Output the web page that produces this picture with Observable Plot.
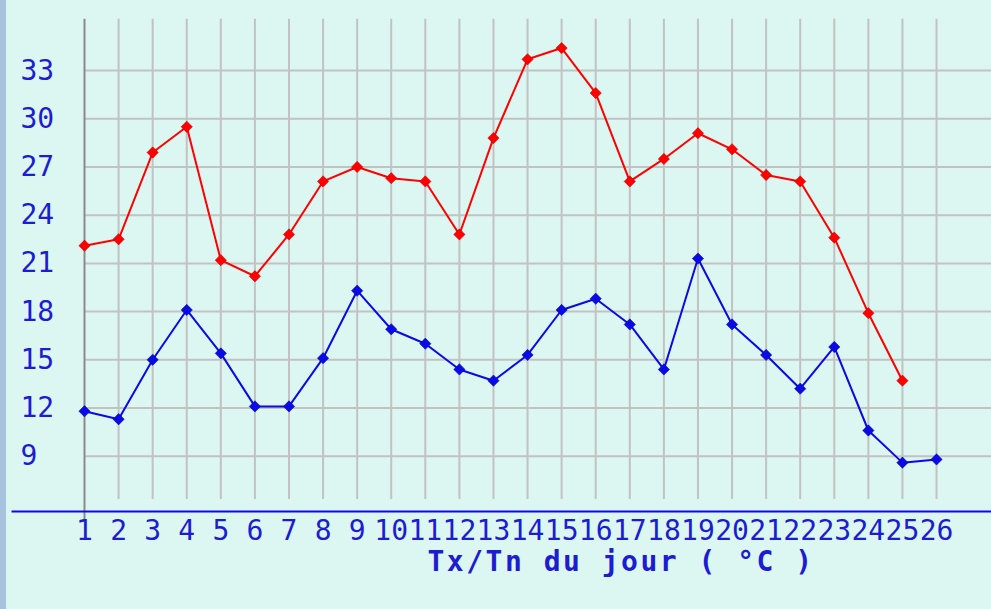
<!DOCTYPE html>
<html>
<head>
<meta charset="utf-8">
<script src="https://cdn.jsdelivr.net/npm/d3@7"></script>
<script src="https://cdn.jsdelivr.net/npm/@observablehq/plot@0.6"></script>
<style>
  html, body { margin: 0; padding: 0; background: #dcf6f1; width: 991px; height: 609px; overflow: hidden; }
  #strip { position: absolute; left: 0; top: 0; width: 6px; height: 609px; background: #a7c3dd; }
  #chart { position: absolute; left: 0; top: 0; }
</style>
</head>
<body>
<div id="chart"></div>
<div id="strip"></div>
<script>
const days = Array.from({length: 26}, (_, i) => i + 1);
const tx = [22.1, 22.5, 27.9, 29.5, 21.2, 20.2, 22.8, 26.1, 27.0, 26.3, 26.1, 22.8, 28.8, 33.7, 34.4, 31.6, 26.1, 27.5, 29.1, 28.1, 26.5, 26.1, 22.6, 17.9, 13.7];
const tn = [11.8, 11.3, 15.0, 18.1, 15.4, 12.1, 12.1, 15.1, 19.3, 16.9, 16.0, 14.4, 13.7, 15.3, 18.1, 18.8, 17.2, 14.4, 21.3, 17.2, 15.3, 13.2, 15.8, 10.6, 8.6, 8.8];
const yTicks = [9, 12, 15, 18, 21, 24, 27, 30, 33];
const title = "Tx/Tn du jour ( °C )";

const txData = tx.map((v, i) => ({day: days[i], v}));
const tnData = tn.map((v, i) => ({day: days[i], v}));

const red = "#ff0000";
const blue = "#0a0ae6";
const textBlue = "#1c1cd2";

const chart = Plot.plot({
  width: 991,
  height: 609,
  marginLeft: 12,
  marginRight: 0,
  marginTop: 0,
  marginBottom: 98,
  x: {domain: [-1.1127, 27.613]},
  y: {domain: [5.559, 37.36]},
  style: {background: "#dcf6f1", fontFamily: "DejaVu Sans Mono", fontSize: "28px", color: textBlue, overflow: "visible"},
  marks: [
    Plot.ruleX(days.slice(1), {y1: 6.3, y2: 36.2, stroke: "#c2c2c2", strokeWidth: 2}),
    Plot.ruleY(yTicks, {x1: 1, x2: 27.613, stroke: "#c2c2c2", strokeWidth: 2}),
    Plot.ruleX([1], {y1: 5.0, y2: 36.2, stroke: "#8a8a8a", strokeWidth: 2, clip: false}),
    Plot.frame({anchor: "bottom", stroke: blue, strokeWidth: 2}),
    Plot.axisX(days, {tickSize: 0, tickPadding: 9, fill: textBlue, fontSize: 28, label: null}),
    Plot.axisY(yTicks, {anchor: "left", tickSize: 0, tickPadding: 0, textAnchor: "start", dx: 8, fill: textBlue, fontSize: 28, label: null}),
    Plot.line(txData, {x: "day", y: "v", stroke: red, strokeWidth: 2}),
    Plot.dot(txData, {x: "day", y: "v", symbol: "square", rotate: 45, r: 4.5, fill: red, stroke: "#c00000", strokeWidth: 0.5}),
    Plot.line(tnData, {x: "day", y: "v", stroke: blue, strokeWidth: 2}),
    Plot.dot(tnData, {x: "day", y: "v", symbol: "square", rotate: 45, r: 4.5, fill: blue, stroke: "#0000a0", strokeWidth: 0.5}),
    Plot.text([title], {frameAnchor: "bottom-left", text: d => d, textAnchor: "start", dx: 415, dy: 59, lineAnchor: "bottom", fontWeight: "bold", fontSize: 28, fill: textBlue})
  ]
});
d3.select(chart).selectAll("text").filter(function() { return this.textContent === title; }).attr("letter-spacing", "2.5px");
document.getElementById("chart").appendChild(chart);
</script>
</body>
</html>
